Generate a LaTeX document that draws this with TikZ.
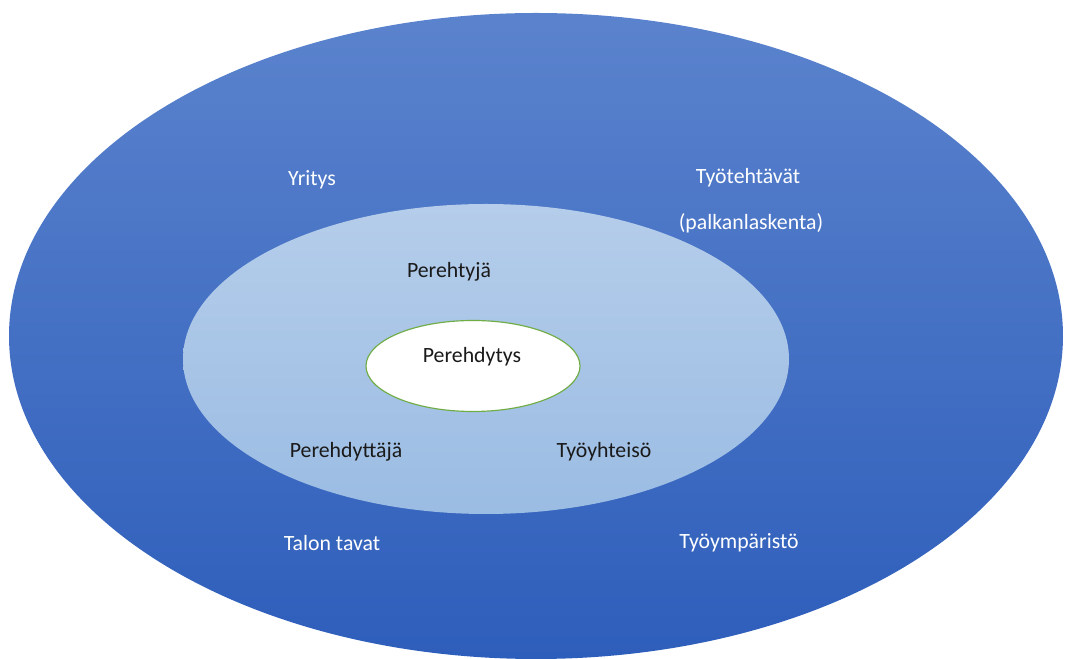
\documentclass[tikz,border=0pt]{standalone}
\usepackage{fontspec}
\setmainfont{Carlito}
\usepackage{tikz}
\usetikzlibrary{shapes.geometric}
\definecolor{outertop}{HTML}{5B83CD}
\definecolor{outerbot}{HTML}{2E5EBB}
\definecolor{midtop}{HTML}{B5CDEA}
\definecolor{midbot}{HTML}{9BBCE3}
\definecolor{coreline}{HTML}{70AD47}
\definecolor{darktext}{HTML}{1A1A1A}

\begin{document}
\begin{tikzpicture}[x=0.015cm, y=-0.015cm,
    ring/.style={ellipse, inner sep=0pt},
    lightlabel/.style={text=white, font=\fontsize{9.3}{11}\selectfont},
    darklabel/.style={text=darktext, font=\fontsize{9.3}{11}\selectfont}]
        % Frame
        \useasboundingbox (0,0) rectangle (1067,659);
        % Outer ring
        \node[ring, minimum width=1054*0.015cm, minimum height=646*0.015cm,
          top color=outertop, bottom color=outerbot] (outer) at (536,336) {};
        % Middle ring
        \node[ring, minimum width=606*0.015cm, minimum height=310*0.015cm,
          top color=midtop, bottom color=midbot] (middle) at (486,359) {};
        % Core
        \node[ring, minimum width=214*0.015cm, minimum height=91*0.015cm,
          fill=white, draw=coreline, line width=0.5pt] (core) at (473,366) {};
        % Outer labels
        \node[lightlabel] (yritys) at (312,180) {Yritys};
        \node[lightlabel] (tehtavat) at (748,178) {Työtehtävät};
        \node[lightlabel] (palkka) at (751,223) {(palkanlaskenta)};
        \node[lightlabel] (tavat) at (332,543) {Talon tavat};
        \node[lightlabel] (ymparisto) at (739,543) {Työympäristö};
        % Middle labels
        \node[darklabel] (tyja) at (449,272) {Perehtyjä};
        \node[darklabel] (ttaja) at (346,452) {Perehdyttäjä};
        \node[darklabel] (yhteiso) at (604,452) {Työyhteisö};
        % Core label
        \node[darklabel] (perehdytys) at (472,357) {Perehdytys};
      \end{tikzpicture}
\end{document}
